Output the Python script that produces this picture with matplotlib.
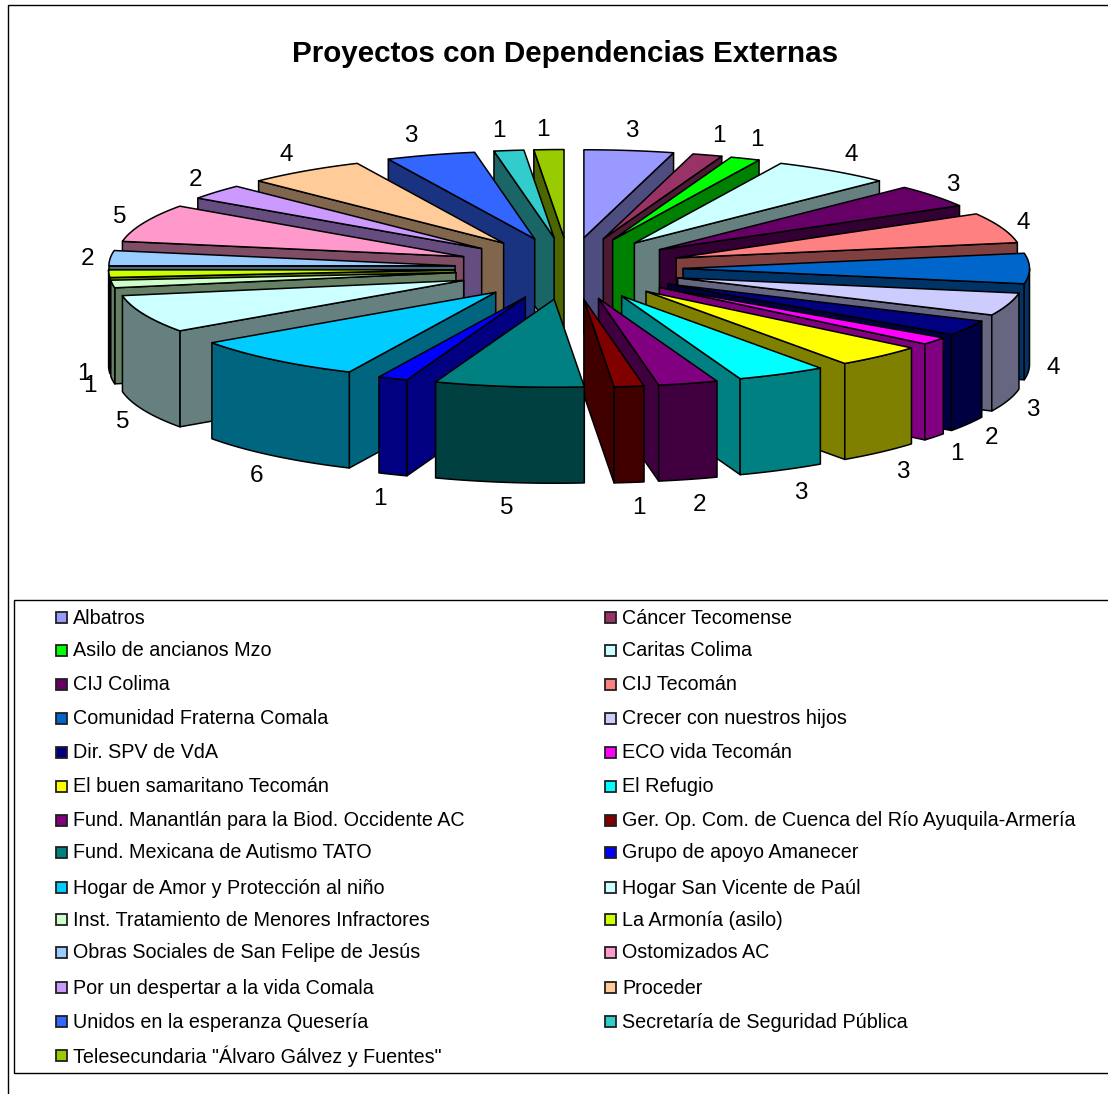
import numpy as np
import matplotlib
matplotlib.use("Agg")
import matplotlib.pyplot as plt
from matplotlib.patches import Polygon, Rectangle
from matplotlib.colors import to_rgb

categories = ["Albatros", "Cáncer Tecomense", "Asilo de ancianos Mzo", "Caritas Colima",
              "CIJ Colima", "CIJ Tecomán", "Comunidad Fraterna Comala", "Crecer con nuestros hijos",
              "Dir. SPV de VdA", "ECO vida Tecomán", "El buen samaritano Tecomán", "El Refugio",
              "Fund. Manantlán para la Biod. Occidente AC", "Ger. Op. Com. de Cuenca del Río Ayuquila-Armería",
              "Fund. Mexicana de Autismo TATO", "Grupo de apoyo Amanecer",
              "Hogar de Amor y Protección al niño", "Hogar San Vicente de Paúl",
              "Inst. Tratamiento de Menores Infractores", "La Armonía (asilo)",
              "Obras Sociales de San Felipe de Jesús", "Ostomizados AC",
              "Por un despertar a la vida Comala", "Proceder",
              "Unidos en la esperanza Quesería", "Secretaría de Seguridad Pública",
              'Telesecundaria "Álvaro Gálvez y Fuentes"']
values = [3, 1, 1, 4, 3, 4, 4, 3, 2, 1, 3, 3, 2, 1, 5, 1, 6, 5, 1, 1, 2, 5, 2, 4, 3, 1, 1]
colors = ["#9999FF", "#993366", "#00FF00", "#CCFFFF", "#660066", "#FF8080", "#0066CC", "#CCCCFF",
          "#000080", "#FF00FF", "#FFFF00", "#00FFFF", "#800080", "#800000", "#008080", "#0000FF",
          "#00CCFF", "#CCFFFF", "#CCFFCC", "#CCFF00", "#99CCFF", "#FF99CC", "#CC99FF", "#FFCC99",
          "#3366FF", "#33CCCC", "#99CC00"]
title = "Proyectos con Dependencias Externas"

# view of the pie (pixels)
CX, CY = 569.0, 268.5
RX, RY = 346.5, 88.0
EX, EY = 114.0, 31.0
H = 96.0
LBL = 23.0
LW = 1.1
FONT = "Liberation Sans"
# small horizontal shifts of the data labels (style only)
label_shift_x = [0, 4, 3, 5, 0, 0, 1, 3, 4, 4, 7, 9, 5, 7, 1, -4, -2, 0, 0, -2, 0, -3, -3, -5, -13, -7, -5]

W, HT = 1108, 1094
fig = plt.figure(figsize=(W / 100, HT / 100), dpi=100, facecolor="white")
ax = fig.add_axes([0, 0, 1, 1])
ax.set_xlim(0, W)
ax.set_ylim(HT, 0)
ax.axis("off")


def dark(c):
    return tuple(v * 0.5 for v in to_rgb(c))


def apex(mid):
    m = np.radians(mid)
    return np.array([CX + EX * np.sin(m), CY - EY * np.cos(m)])


def rim(mid, a):
    a = np.radians(a)
    return apex(mid) + np.stack([RX * np.sin(a), -RY * np.cos(a)], axis=-1)


def face(pts, color, z):
    ax.add_patch(Polygon(pts, closed=True, facecolor=color, edgecolor="black",
                         linewidth=LW, joinstyle="round", zorder=z))


vals = np.array(values, dtype=float)
ends = np.cumsum(vals) / vals.sum() * 360
starts = ends - vals / vals.sum() * 360
mids = (starts + ends) / 2
order = np.argsort(-np.cos(np.radians(mids)), kind="stable")

down = np.array([0, H])
z = 2
for i in order:
    s, e, m, col = starts[i], ends[i], mids[i], colors[i]
    wall = dark(col)
    top_apex = apex(m)
    # radial wall that faces the viewer
    edge = e if np.sin(np.radians(m)) > 0 else s
    if np.sin(np.radians(edge)) * np.sin(np.radians(m)) > 0:
        p = rim(m, edge)
        face([top_apex, p, p + down, top_apex + down], wall, z)
        z += 1
    # outer wall, front half only
    lo, hi = max(s, 90), min(e, 270)
    if hi > lo:
        arc = rim(m, np.linspace(lo, hi, 30))
        face(np.vstack([arc, (arc + down)[::-1]]), wall, z)
        z += 1
    # top face
    arc = rim(m, np.linspace(s, e, 40))
    face(np.vstack([top_apex, arc]), col, z)
    z += 1

# data labels
for i, v in enumerate(values):
    m = mids[i]
    p = rim(m, m)
    if 90 <= m <= 270:
        p = p + down
    r = np.radians(m)
    ax.text(p[0] + LBL * np.sin(r) + label_shift_x[i], p[1] - LBL * np.cos(r) + 3, str(v),
            ha="center", va="center", fontsize=17.5, family=FONT, color="black", zorder=200)

ax.text(565.5, 53.5, title, ha="center", va="center", fontsize=21.3, fontweight="bold",
        family=FONT, color="black", zorder=200)

# chart frame
ax.plot([8, 8, W], [HT, 5, 5], color="black", lw=1.0, zorder=150, solid_joinstyle="miter")
# legend frame
ax.plot([W, 14, 14, W], [600, 600, 1072.5, 1072.5], color="black", lw=1.0, zorder=150,
        solid_joinstyle="miter")

rows = [617, 650, 684, 718, 752, 786, 820, 852, 887, 919, 952, 987, 1021, 1055]
columns = [(55, 73), (604, 622)]
for i, name in enumerate(categories):
    bx, tx = columns[i % 2]
    y = rows[i // 2]
    ax.add_patch(Rectangle((bx + 0.5, y - 5.5), 11, 11, facecolor=colors[i], edgecolor="#202020",
                           linewidth=1.3, zorder=160))
    ax.text(tx, y + 1, name, ha="left", va="center", fontsize=14.25, family=FONT, color="black", zorder=160)

fig.savefig("out.png", dpi=100, facecolor="white")
